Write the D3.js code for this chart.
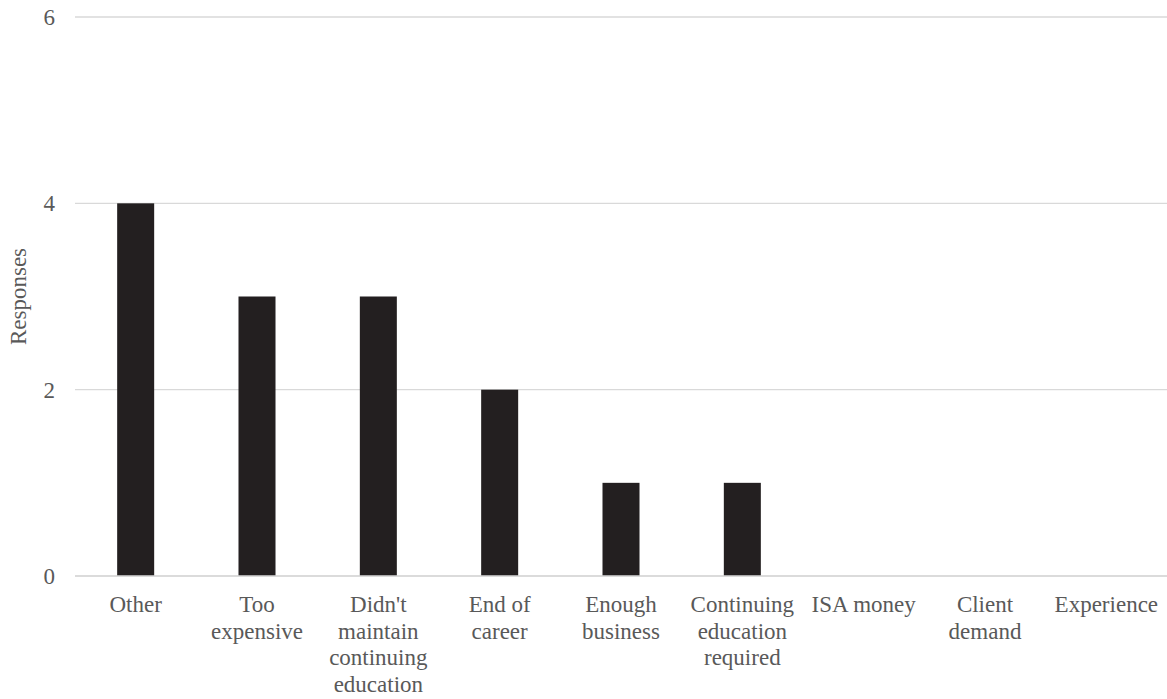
<!DOCTYPE html>
<html>
<head>
<meta charset="utf-8">
<script src="https://cdn.jsdelivr.net/npm/d3@7"></script>
<style>
  html, body { margin: 0; padding: 0; background: #fff; }
  svg { display: block; }
</style>
</head>
<body>
<svg id="chart" width="1167" height="699"></svg>
<script>
// Reasons given, in display order
const categories = [
  "Other", "Too expensive", "Didn't maintain continuing education",
  "End of career", "Enough business", "Continuing education required",
  "ISA money", "Client demand", "Experience"
];
// Wrapped axis label lines for each category
const tickLabels = [
  ["Other"],
  ["Too", "expensive"],
  ["Didn't", "maintain", "continuing", "education"],
  ["End of", "career"],
  ["Enough", "business"],
  ["Continuing", "education", "required"],
  ["ISA money"],
  ["Client", "demand"],
  ["Experience"]
];
const responses = [4, 3, 3, 2, 1, 1, 0, 0, 0];
const yTicks = [0, 2, 4, 6];

const width = 1167, height = 699;
const margin = { top: 17, right: 0, bottom: 123, left: 75 };
const fontSize = 23;
const fontStack = "Liberation Serif, Tinos, DejaVu Serif, Noto Serif, serif";
const textColor = "#595959";

const svg = d3.select("#chart")
  .style("font-family", fontStack);

const x = d3.scaleBand()
  .domain(categories)
  .range([margin.left, width - margin.right])
  .paddingInner(0.695)
  .paddingOuter(0.3475);

const y = d3.scaleLinear()
  .domain([0, 6])
  .range([height - margin.bottom, margin.top]);

// Horizontal gridlines
svg.append("g")
  .selectAll("line")
  .data(yTicks)
  .join("line")
  .attr("x1", margin.left)
  .attr("x2", width - margin.right)
  .attr("y1", d => y(d))
  .attr("y2", d => y(d))
  .attr("stroke", "#d9d9d9")
  .attr("stroke-width", 1.3);

// Y tick labels
svg.append("g")
  .selectAll("text")
  .data(yTicks)
  .join("text")
  .attr("x", 55)
  .attr("y", d => y(d))
  .attr("dy", "0.35em")
  .attr("text-anchor", "end")
  .style("font-family", fontStack)
  .attr("font-size", fontSize)
  .attr("fill", textColor)
  .text(d => d);

// Bars
svg.append("g")
  .selectAll("rect")
  .data(responses)
  .join("rect")
  .attr("x", (d, i) => x(categories[i]))
  .attr("width", x.bandwidth())
  .attr("y", d => y(d))
  .attr("height", d => y(0) - y(d))
  .attr("fill", "#231f20");

// Baseline drawn over the bar bottoms
svg.append("line")
  .attr("x1", margin.left)
  .attr("x2", width - margin.right)
  .attr("y1", y(0))
  .attr("y2", y(0))
  .attr("stroke", "#d9d9d9")
  .attr("stroke-width", 1.3);

// X category labels
const xl = svg.append("g")
  .selectAll("text")
  .data(categories)
  .join("text")
  .attr("x", d => x(d) + x.bandwidth() / 2)
  .attr("y", 612)
  .attr("text-anchor", "middle")
  .style("font-family", fontStack)
  .attr("font-size", fontSize)
  .attr("fill", textColor);

xl.each(function(d, i) {
  const t = d3.select(this);
  tickLabels[i].forEach((line, j) => {
    t.append("tspan")
      .attr("x", x(d) + x.bandwidth() / 2)
      .attr("dy", j === 0 ? 0 : 26.5)
      .text(line);
  });
});

// Y axis title
svg.append("text")
  .attr("transform", `translate(26, ${(y(0) + y(6)) / 2}) rotate(-90)`)
  .attr("text-anchor", "middle")
  .style("font-family", fontStack)
  .attr("font-size", fontSize)
  .attr("fill", textColor)
  .text("Responses");
</script>
</body>
</html>
